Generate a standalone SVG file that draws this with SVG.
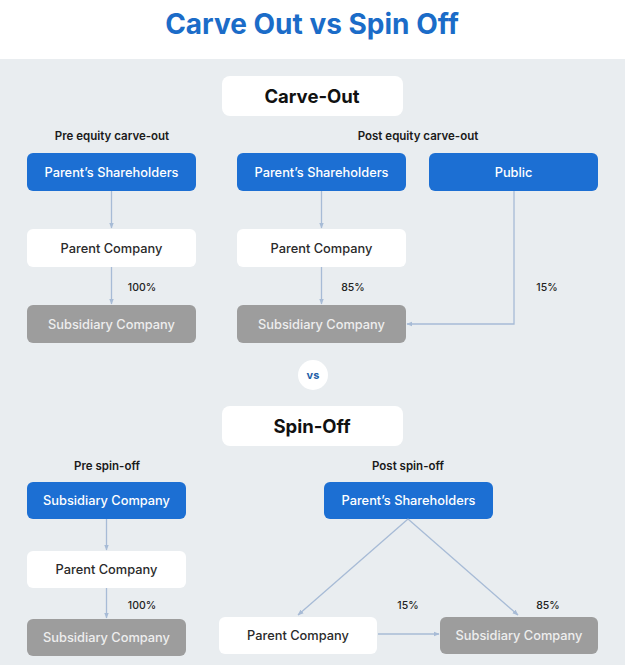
<svg xmlns="http://www.w3.org/2000/svg" width="625" height="665" viewBox="0 0 625 665">
<style>
text{font-family:Inter,"Noto Sans","Liberation Sans",sans-serif;text-anchor:middle;dominant-baseline:central}
.title{font-size:28px;font-weight:700;fill:#1b6cc8}
.sec{font-size:18.5px;font-weight:700;fill:#111}
.lab{font-size:11.5px;font-weight:600;fill:#1a1a1a}
.pct{font-size:10.5px;font-weight:500;fill:#222}
.blue rect{fill:#1c6fd3}
.blue text{fill:#fff;font-size:12.8px;font-weight:500}
.white rect{fill:#fff}
.white text{fill:#2a2a2a;font-size:12.8px;font-weight:500}
.grey rect{fill:#9d9d9d}
.grey text{fill:#eeeeee;font-size:12.8px;font-weight:500}
.conn{stroke:#a7bbd6;stroke-width:1.3;fill:none;marker-end:url(#ah)}
</style>
<defs>
<marker id="ah" viewBox="0 0 10 10" refX="9" refY="5" markerWidth="6" markerHeight="6" orient="auto-start-reverse" markerUnits="userSpaceOnUse">
<path d="M0,1 L10,5 L0,9 z" fill="#a7bbd6"/>
</marker>
</defs>
<rect x="0" y="0" width="625" height="665" fill="#e9edf0"/>
<rect x="0" y="0" width="625" height="59" fill="#ffffff"/>
<text class="title" x="312" y="24">Carve Out vs Spin Off</text>

<g id="carve-out-header"><rect x="222" y="76" width="181" height="40" rx="8" fill="#fff"/><text class="sec" x="312" y="96">Carve-Out</text></g>
<text class="lab" x="112" y="136">Pre equity carve-out</text>
<text class="lab" x="418" y="136">Post equity carve-out</text>

<g id="co-pre-shareholders" class="blue"><rect x="27" y="153" width="169" height="38" rx="6"/><text x="111.5" y="172">Parent’s Shareholders</text></g>
<g id="co-pre-parent" class="white"><rect x="27" y="229" width="169" height="38" rx="6"/><text x="111.5" y="248">Parent Company</text></g>
<g id="co-pre-sub" class="grey"><rect x="27" y="305" width="169" height="38" rx="6"/><text x="111.5" y="324">Subsidiary Company</text></g>

<g id="co-post-shareholders" class="blue"><rect x="237" y="153" width="169" height="38" rx="6"/><text x="321.5" y="172">Parent’s Shareholders</text></g>
<g id="co-post-parent" class="white"><rect x="237" y="229" width="169" height="38" rx="6"/><text x="321.5" y="248">Parent Company</text></g>
<g id="co-post-sub" class="grey"><rect x="237" y="305" width="169" height="38" rx="6"/><text x="321.5" y="324">Subsidiary Company</text></g>
<g id="co-public" class="blue"><rect x="429" y="153" width="169" height="38" rx="6"/><text x="513.5" y="172">Public</text></g>

<g id="vs"><circle cx="313" cy="375" r="15" fill="#fff"/><text x="313" y="375" style="font-size:11px;font-weight:700;fill:#1f5fa8">vs</text></g>

<g id="spin-off-header"><rect x="222" y="406" width="181" height="40" rx="8" fill="#fff"/><text class="sec" x="312" y="426">Spin-Off</text></g>
<text class="lab" x="107" y="466">Pre spin-off</text>
<text class="lab" x="408" y="466">Post spin-off</text>

<g id="so-pre-sub-top" class="blue"><rect x="27" y="482" width="159" height="37" rx="6"/><text x="106.5" y="500.5">Subsidiary Company</text></g>
<g id="so-pre-parent" class="white"><rect x="27" y="551" width="159" height="37" rx="6"/><text x="106.5" y="569.5">Parent Company</text></g>
<g id="so-pre-sub" class="grey"><rect x="27" y="619" width="159" height="37" rx="6"/><text x="106.5" y="637.5">Subsidiary Company</text></g>

<g id="so-post-shareholders" class="blue"><rect x="324" y="482" width="169" height="37" rx="6"/><text x="408.5" y="500.5">Parent’s Shareholders</text></g>
<g id="so-post-parent" class="white"><rect x="219" y="617" width="158" height="37" rx="6"/><text x="298" y="635.5">Parent Company</text></g>
<g id="so-post-sub" class="grey"><rect x="440" y="617" width="158" height="37" rx="6"/><text x="519" y="635.5">Subsidiary Company</text></g>

<g id="connectors">
<line class="conn" x1="111.5" y1="191" x2="111.5" y2="228"/>
<line class="conn" x1="111.5" y1="267" x2="111.5" y2="304"/>
<line class="conn" x1="321.5" y1="191" x2="321.5" y2="228"/>
<line class="conn" x1="321.5" y1="267" x2="321.5" y2="304"/>
<polyline class="conn" points="514,191 514,324 407,324"/>
<line class="conn" x1="106.5" y1="519" x2="106.5" y2="550"/>
<line class="conn" x1="106.5" y1="588" x2="106.5" y2="618"/>
<line class="conn" x1="408" y1="519" x2="298" y2="615"/>
<line class="conn" x1="408" y1="519" x2="518" y2="615"/>
<line class="conn" x1="378" y1="634" x2="439" y2="634"/>
</g>
<text class="pct" x="142" y="287">100%</text>
<text class="pct" x="353" y="287">85%</text>
<text class="pct" x="547" y="287">15%</text>
<text class="pct" x="142" y="605">100%</text>
<text class="pct" x="408" y="605">15%</text>
<text class="pct" x="548" y="605">85%</text>
</svg>
